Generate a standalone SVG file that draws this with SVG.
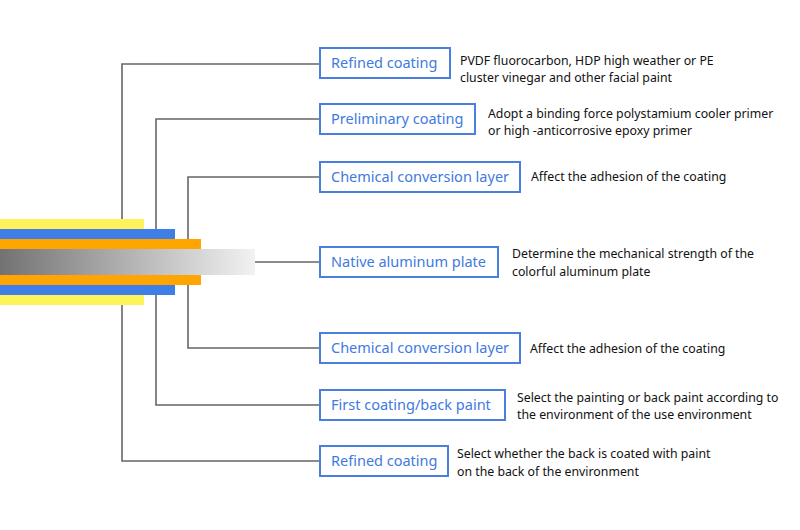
<svg xmlns="http://www.w3.org/2000/svg" width="800" height="530" viewBox="0 0 800 530">
<defs>
<linearGradient id="g" x1="0" y1="0" x2="1" y2="0">
<stop offset="0" stop-color="#727272"/>
<stop offset="1" stop-color="#f2f2f2"/>
</linearGradient>
<style>
.box{fill:#fff;stroke:#4a7fe0;stroke-width:2}
.lbl{font-family:"Noto Sans","Open Sans",sans-serif;font-size:14.5px;fill:#3f7ae0}
.desc{font-family:"Noto Sans","Open Sans",sans-serif;font-size:12.3px;fill:#111}
.ln{fill:none;stroke:#666;stroke-width:1.6}
</style>
</defs>
<rect width="800" height="530" fill="#fff"/>
<g id="layers">
<rect x="0" y="219" width="144" height="10" fill="#fff35c"/>
<rect x="0" y="229" width="175" height="10" fill="#3f7ee6"/>
<rect x="0" y="239" width="201" height="10" fill="#ffa502"/>
<rect x="0" y="249" width="255" height="26" fill="url(#g)"/>
<rect x="0" y="275" width="201" height="10" fill="#ffa502"/>
<rect x="0" y="285" width="175" height="10" fill="#3f7ee6"/>
<rect x="0" y="295" width="144" height="10" fill="#fff35c"/>
</g>
<g id="connectors">
<polyline class="ln" points="122,219 122,64 320,64"/>
<polyline class="ln" points="156,229 156,119 320,119"/>
<polyline class="ln" points="188,239 188,177 320,177"/>
<polyline class="ln" points="255,262 320,262"/>
<polyline class="ln" points="188,285 188,348 320,348"/>
<polyline class="ln" points="156,295 156,405 320,405"/>
<polyline class="ln" points="122,305 122,461 320,461"/>
</g>
<g id="n1"><rect class="box" x="320" y="48" width="130" height="30"/><text class="lbl" x="331" y="68">Refined coating</text>
<text class="desc" x="460" y="65">PVDF fluorocarbon, HDP high weather or PE</text><text class="desc" x="460" y="82">cluster vinegar and other facial paint</text></g>
<g id="n2"><rect class="box" x="320" y="104" width="155" height="30"/><text class="lbl" x="331" y="124">Preliminary coating</text>
<text class="desc" x="488" y="118">Adopt a binding force polystamium cooler primer</text><text class="desc" x="488" y="135">or high -anticorrosive epoxy primer</text></g>
<g id="n3"><rect class="box" x="320" y="162" width="200" height="30"/><text class="lbl" x="331" y="182">Chemical conversion layer</text>
<text class="desc" x="531" y="181">Affect the adhesion of the coating</text></g>
<g id="n4"><rect class="box" x="320" y="247" width="178" height="30"/><text class="lbl" x="331" y="267">Native aluminum plate</text>
<text class="desc" x="512" y="258">Determine the mechanical strength of the</text><text class="desc" x="512" y="276">colorful aluminum plate</text></g>
<g id="n5"><rect class="box" x="320" y="333" width="200" height="30"/><text class="lbl" x="331" y="353">Chemical conversion layer</text>
<text class="desc" x="530" y="353">Affect the adhesion of the coating</text></g>
<g id="n6"><rect class="box" x="320" y="390" width="185" height="30"/><text class="lbl" x="331" y="410">First coating/back paint</text>
<text class="desc" x="517" y="402">Select the painting or back paint according to</text><text class="desc" x="517" y="419">the environment of the use environment</text></g>
<g id="n7"><rect class="box" x="320" y="446" width="128" height="30"/><text class="lbl" x="331" y="466">Refined coating</text>
<text class="desc" x="457" y="458">Select whether the back is coated with paint</text><text class="desc" x="457" y="476">on the back of the environment</text></g>
</svg>
